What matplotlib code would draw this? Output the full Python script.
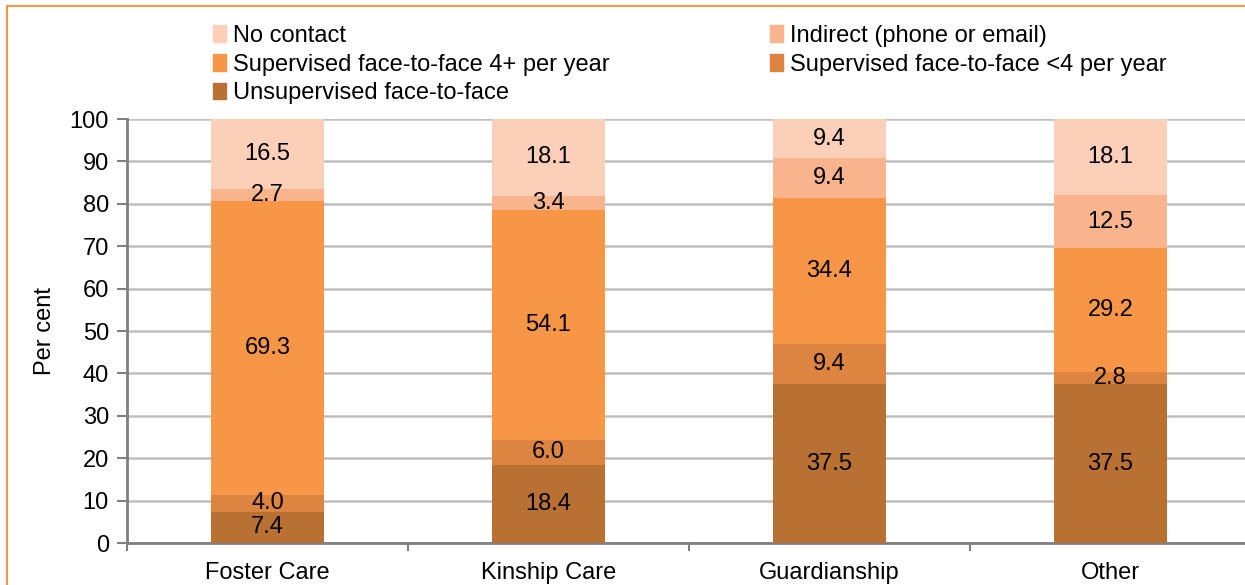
import matplotlib
matplotlib.use("Agg")
import matplotlib.pyplot as plt
from matplotlib.patches import Patch
from matplotlib.lines import Line2D
import numpy as np

plt.rcParams['font.family'] = ['Liberation Sans', 'DejaVu Sans']

categories = ["Foster Care", "Kinship Care", "Guardianship", "Other"]
series_names = ["Unsupervised face-to-face", "Supervised face-to-face <4 per year",
                "Supervised face-to-face 4+ per year", "Indirect (phone or email)", "No contact"]
unsupervised = [7.4, 18.4, 37.5, 37.5]
supervised_lt4 = [4.0, 6.0, 9.4, 2.8]
supervised_4plus = [69.3, 54.1, 34.4, 29.2]
indirect = [2.7, 3.4, 9.4, 12.5]
no_contact = [16.5, 18.1, 9.4, 18.1]
colors = ["#B97133", "#DE8441", "#F79646", "#F9B48E", "#FBCFB8"]

FS = 17

fig = plt.figure(figsize=(12.45, 5.85), dpi=100)
ax = fig.add_axes([127/1245, 1 - 543/585, 1124/1245, (543 - 119)/585])

x = np.arange(len(categories))
bottom = np.zeros(len(categories))
all_series = [unsupervised, supervised_lt4, supervised_4plus, indirect, no_contact]
for vals, c, name in zip(all_series, colors, series_names):
    vals = np.array(vals)
    ax.bar(x, vals, 0.4, bottom=bottom, color=c, label=name, zorder=3)
    for xi, v, bt in zip(x, vals, bottom):
        ax.text(xi, bt + v / 2, f"{v:.1f}", ha='center', va='center', fontsize=FS, zorder=4)
    bottom += vals

ax.set_xlim(-0.5, len(categories) - 0.5)
ax.set_ylim(0, 100)
ax.set_yticks(range(0, 101, 10))
ax.set_xticks(x)
ax.set_xticklabels(categories)
ax.tick_params(axis='both', labelsize=FS, colors='black', length=7, width=1.5)
ax.tick_params(axis='y', direction='out', color='#808080', pad=6)
ax.tick_params(axis='x', length=0, pad=14)
ax.yaxis.grid(True, color='#BFBFBF', linewidth=1.8, zorder=0)
for s in ['top', 'right']:
    ax.spines[s].set_visible(False)
for s in ['left', 'bottom']:
    ax.spines[s].set_color('#808080')
    ax.spines[s].set_linewidth(2)
ax.set_ylabel("Per cent", fontsize=FS, labelpad=10)

# x tick marks at category boundaries
for xb in np.arange(-0.5, len(categories), 1.0):
    ax.plot([xb, xb], [0, -1.6], color='#808080', lw=1.5, clip_on=False, zorder=5)

handles = [Patch(color=colors[4]), Patch(color=colors[2]), Patch(color=colors[0]),
           Patch(color=colors[3]), Patch(color=colors[1])]
labels = [series_names[4], series_names[2], series_names[0], series_names[3], series_names[1]]
fig.legend(handles, labels, ncol=2, loc='upper left', bbox_to_anchor=(194/1245, 1 - 6/585),
           frameon=False, fontsize=FS, handlelength=0.55, handleheight=0.7, handletextpad=0.3,
           columnspacing=6.8, labelspacing=0.28, borderpad=0.3)

fig.add_artist(Line2D([7/1245, 7/1245], [0, 1 - 6/585], color='#F79646', lw=1.5))
fig.add_artist(Line2D([7/1245, 1], [1 - 6/585, 1 - 6/585], color='#F79646', lw=1.5))

fig.savefig("out.png", dpi=100)
